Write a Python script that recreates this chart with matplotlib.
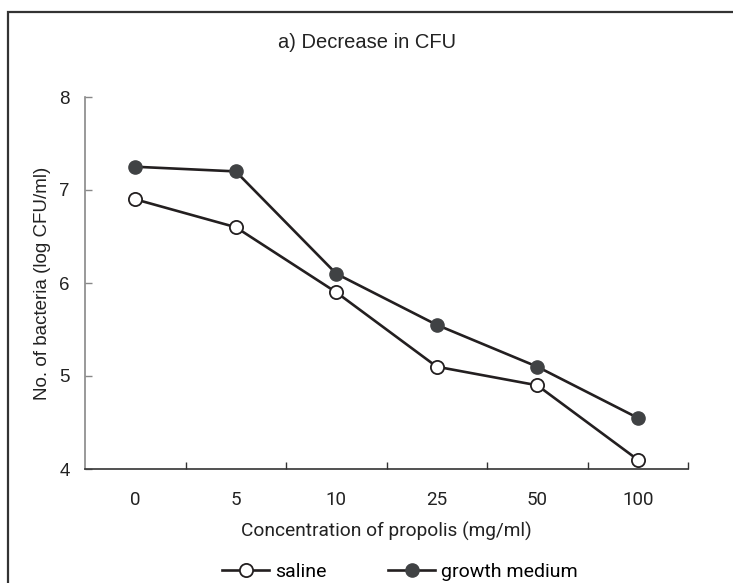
import matplotlib
matplotlib.use("Agg")
import matplotlib.pyplot as plt
from matplotlib import font_manager
from matplotlib.lines import Line2D
from matplotlib.patches import Rectangle

categories = ["0", "5", "10", "25", "50", "100"]
saline = [6.9, 6.6, 5.9, 5.1, 4.9, 4.1]
growth_medium = [7.25, 7.2, 6.1, 5.55, 5.1, 4.55]
y_ticks = [4, 5, 6, 7, 8]

names = {f.name for f in font_manager.fontManager.ttflist}
narrow = "Liberation Sans Narrow" if "Liberation Sans Narrow" in names else "Roboto"
arial = "Liberation Sans"

W, H = 733, 583
fig = plt.figure(figsize=(W / 100, H / 100), dpi=100)
ax = fig.add_axes([85 / W, 1 - 469 / H, (688 - 85) / W, (469 - 97) / H])

x = list(range(len(categories)))
line_col = "#231f20"
ax.plot(x, saline, color=line_col, lw=1.9, marker="o", ms=9.5,
        mfc="white", mec=line_col, mew=1.3, zorder=3, clip_on=False)
ax.plot(x, growth_medium, color=line_col, lw=1.9, marker="o", ms=9.5,
        mfc="#404244", mec="#404244", mew=1.0, zorder=3, clip_on=False)

ax.set_xlim(-0.5, len(categories) - 0.5)
ax.set_ylim(4, 8)
ax.set_yticks(y_ticks)
ax.set_yticklabels([str(v) for v in y_ticks], fontfamily=arial, fontsize=13.5)
ax.set_xticks(x)
ax.set_xticklabels(categories, fontfamily=narrow, fontsize=13.5)
ax.set_xticks([i + 0.5 for i in x], minor=True)
ax.tick_params(axis="x", which="major", length=0, pad=16, colors="#222222")
ax.tick_params(axis="x", which="minor", direction="in", length=5, width=1, color="#333333")
ax.tick_params(axis="y", direction="in", length=5, width=1, color="#888888",
               labelcolor="#222222", pad=11)

for s in ["top", "right"]:
    ax.spines[s].set_visible(False)
ax.spines["left"].set_color("#888888")
ax.spines["left"].set_linewidth(1.2)
ax.spines["bottom"].set_color("#333333")
ax.spines["bottom"].set_linewidth(1.2)

ax.set_xlabel("Concentration of propolis (mg/ml)", fontfamily=narrow, fontsize=13.8,
              color="#222222", labelpad=9)
ax.set_ylabel("No. of bacteria (log CFU/ml)", fontfamily=arial, fontsize=13.5,
              color="#222222", labelpad=6)

fig.text(367 / W, 1 - 43 / H, "a) Decrease in CFU", fontfamily=arial, fontsize=14.5,
         ha="center", va="center", color="#222222")

handles = [
    Line2D([], [], color=line_col, lw=1.9, marker="o", ms=9.5, mfc="white",
           mec=line_col, mew=1.3),
    Line2D([], [], color=line_col, lw=1.9, marker="o", ms=9.5, mfc="#404244",
           mec="#404244"),
]
fig.legend(handles, ["saline", "growth medium"], loc="center",
           bbox_to_anchor=(400 / W, 1 - 572 / H), ncol=2, frameon=False,
           prop={"family": narrow, "size": 14}, handlelength=2.4,
           handletextpad=0.3, columnspacing=3.2)

fig.patches.append(Rectangle((8 / W, -0.1), 1.2, 1 - 12 / H + 0.1,
                             transform=fig.transFigure, fill=False,
                             edgecolor="#333333", lw=1.6))

fig.savefig("out.png", dpi=100)
